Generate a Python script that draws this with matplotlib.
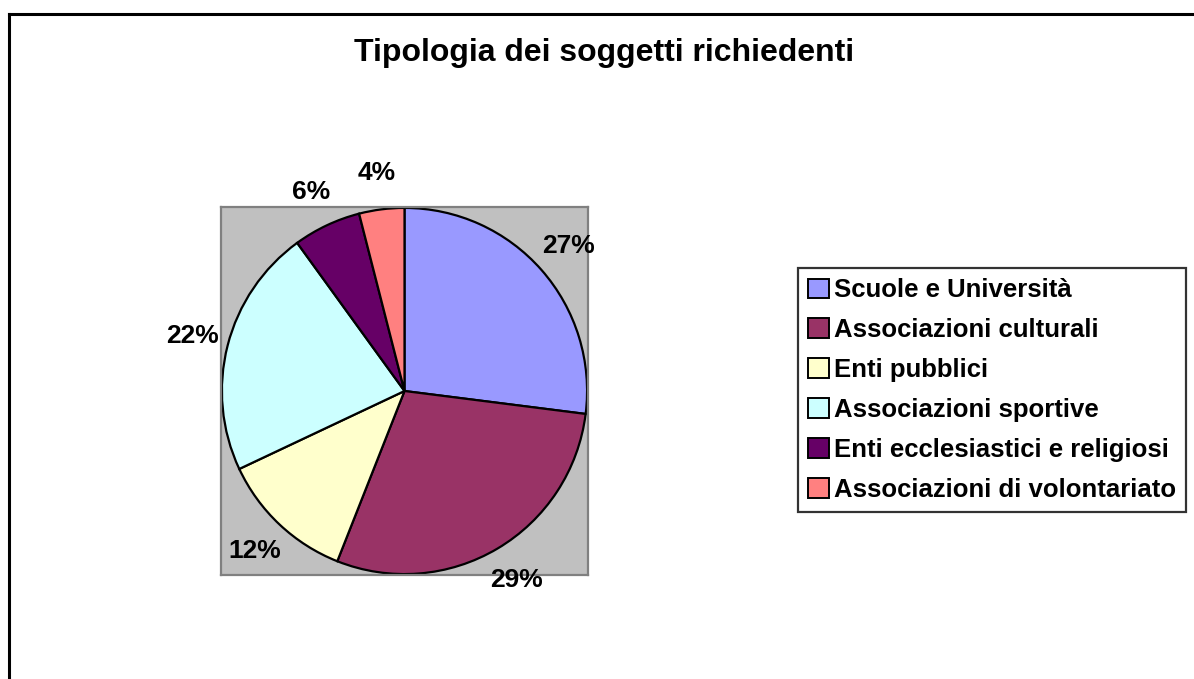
import matplotlib
matplotlib.use("Agg")
import matplotlib.pyplot as plt
from matplotlib.lines import Line2D

plt.rcParams["font.family"] = ["Liberation Sans", "DejaVu Sans"]

LABELS = ["Scuole e Università", "Associazioni culturali", "Enti pubblici",
          "Associazioni sportive", "Enti ecclesiastici e religiosi",
          "Associazioni di volontariato"]
VALUES = [27, 29, 12, 22, 6, 4]
COLORS = ["#9999FF", "#993366", "#FFFFCC", "#CCFFFF", "#660066", "#FF8080"]

W, H = 1194, 679
fig = plt.figure(figsize=(W / 100, H / 100), dpi=100)

# outer chart border (right/bottom run off the image)
fig.add_artist(Line2D([9 / W, 9 / W], [0, 1 - 14 / H], color="black", lw=2.2))
fig.add_artist(Line2D([9 / W, 1], [1 - 14 / H, 1 - 14 / H], color="black", lw=2.2))

fig.text(604 / W, 1 - 53 / H, "Tipologia dei soggetti richiedenti",
         ha="center", va="center", fontsize=23, fontweight="bold")

ax = fig.add_axes([221 / W, 1 - 575 / H, 367 / W, 368 / H])
wedges, texts, autotexts = ax.pie(
    VALUES, colors=COLORS, startangle=90, counterclock=False, radius=1,
    autopct="%1.0f%%", pctdistance=1.2, frame=True,
    wedgeprops=dict(edgecolor="black", linewidth=1.6),
    textprops=dict(fontsize=19, fontweight="bold"))
ax.set_facecolor("#C0C0C0")
for s in ax.spines.values():
    s.set_color("#808080")
    s.set_linewidth(1.6)
ax.set_xticks([]); ax.set_yticks([])
ax.set_xlim(-1.005, 1.005)
ax.set_ylim(-1.005, 1.005)
ax.set_aspect("auto")

leg = fig.legend(wedges, LABELS, loc="upper left",
                 bbox_to_anchor=(798 / W, 1 - 268 / H),
                 frameon=True, fancybox=False,
                 prop=dict(size=18.5, weight="bold"),
                 handlelength=0.8, handleheight=0.8, handletextpad=0.2,
                 labelspacing=0.62, borderpad=0.4, borderaxespad=0)
leg.get_frame().set_edgecolor("black")
leg.get_frame().set_linewidth(1.6)
for h in leg.legend_handles:
    h.set_linewidth(1.4)

fig.savefig("out.png", dpi=100)
